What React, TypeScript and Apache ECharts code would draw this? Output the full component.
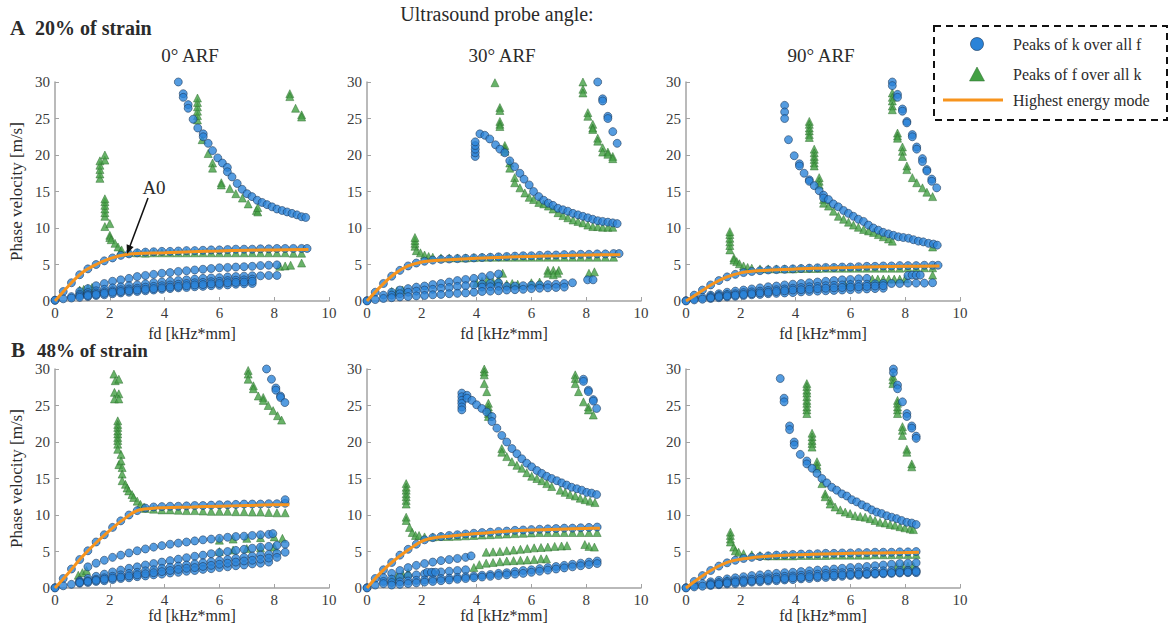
import React, { useEffect, useRef } from "react";
import * as echarts from "echarts";

const _ = null;
// fd sampling grid [kHz*mm]
const FD = [0, 0.3, 0.6, 0.9, 1.2, 1.5, 1.8, 2.1, 2.4, 2.7, 3.0, 3.3, 3.6, 3.9, 4.2, 4.5, 4.8, 5.1, 5.4, 5.7, 6.0, 6.3, 6.6, 6.9, 7.2, 7.5, 7.8, 8.1, 8.4, 8.7, 9.0, 9.2];

const xTicks = [0, 2, 4, 6, 8, 10];
const yTicks = [0, 5, 10, 15, 20, 25, 30];
const columnTitles = ["0° ARF", "30° ARF", "90° ARF"];
const rowTitles = [["A", "20% of strain"], ["B", "48% of strain"]];
const legendNames = ["Peaks of k over all f", "Peaks of f over all k", "Highest energy mode"];

// ---------- A: 20% strain, 0° ----------
const a1Mode = [[0, 0], [0.5, 2.1], [1, 3.9], [1.5, 5.0], [2, 5.8], [2.5, 6.3], [3, 6.5], [4, 6.6], [5, 6.75], [6, 6.85], [7, 6.95], [8, 7.0], [9.25, 7.05]];
const a1KA0 = [0.1, 1.3, 2.5, 3.6, 4.4, 5.0, 5.5, 5.9, 6.25, 6.45, 6.6, 6.7, 6.75, 6.8, 6.8, 6.85, 6.9, 6.9, 6.95, 7.0, 7.0, 7.05, 7.1, 7.1, 7.1, 7.15, 7.15, 7.2, 7.2, 7.2, 7.2, 7.2];
const a1KT = [_, _, _, 1.3, 1.7, 2.1, 2.4, 2.7, 2.9, 3.1, 3.35, 3.5, 3.65, 3.8, 3.9, 4.05, 4.15, 4.25, 4.35, 4.45, 4.55, 4.6, 4.65, 4.7, 4.75, 4.85, 4.9, 4.95];
const a1KL1 = [_, _, 0.6, 0.9, 1.15, 1.4, 1.6, 1.8, 1.95, 2.1, 2.2, 2.35, 2.5, 2.6, 2.7, 2.8, 2.9, 3.0, 3.1, 3.15, 3.2, 3.3, 3.35, 3.4, 3.45, 3.45, 3.5, 3.5];
const a1KL2 = [_, _, _, 0.7, 0.9, 1.1, 1.25, 1.4, 1.55, 1.65, 1.75, 1.9, 2.0, 2.1, 2.2, 2.3, 2.4, 2.5, 2.55, 2.65, 2.7, 2.8, 2.85, 2.9, 3.0];
const a1KL3 = [0.1, 0.3, 0.4, 0.5, 0.6, 0.75, 0.85, 1.0, 1.1, 1.2, 1.3, 1.4, 1.5, 1.6, 1.7, 1.8, 1.85, 1.95, 2.0, 2.1, 2.15, 2.2, 2.3, 2.35, 2.4];
const a1KL4 = [_, _, _, _, 0.75, 0.9, 1.05, 1.2, 1.3, 1.4, 1.5, 1.6, 1.7, 1.8, 1.9, 2.0, 2.1, 2.2, 2.25, 2.35, 2.4, 2.5, 2.55, 2.6, 2.7];
const a1KUp = [[4.5, 30], [4.68, 28.4], [4.68, 27.9], [4.86, 26.9], [4.86, 26.4], [5.04, 24.9], [5.21, 23.7], [5.41, 22.9], [5.41, 22.5], [5.59, 21.6], [5.75, 20.6], [5.94, 19.6], [6.11, 18.9], [6.29, 18.3], [6.29, 17.7], [6.46, 17.0], [6.65, 16.1], [6.83, 15.3], [7.01, 14.7], [7.19, 14.3], [7.38, 13.8], [7.56, 13.5], [7.74, 13.2], [7.92, 12.9], [8.1, 12.6], [8.29, 12.4], [8.47, 12.2], [8.65, 12.0], [8.83, 11.8], [9.0, 11.55], [9.15, 11.45]];
const a1FA0 = [_, _, _, _, _, _, _, _, 6.8, 6.65, 6.6, 6.55, 6.6, 6.6, 6.6, 6.6, 6.6, 6.6, 6.6, 6.6, 6.6, 6.6, 6.6, 6.6, 6.6, 6.6, 6.6, 6.6, 6.6, 6.55, 6.55];
const a1FSpike = [[1.64, 16.8], [1.64, 17.4], [1.64, 18.0], [1.64, 18.6], [1.64, 19.2], [1.82, 19.3], [1.82, 20.0], [1.82, 11.6], [1.82, 12.1], [1.82, 12.6], [1.82, 13.1], [1.82, 13.6], [1.82, 14.0], [1.82, 10.2], [2.0, 10.6], [2.0, 9.0], [2.0, 8.7], [2.05, 8.4], [2.19, 7.9], [2.3, 7.4], [2.43, 7.0]];
const a1FUp = [[5.2, 24.8], [5.2, 25.4], [5.2, 26.0], [5.2, 26.6], [5.2, 27.2], [5.2, 27.8], [5.37, 22.1], [5.59, 20.2], [5.75, 18.9], [5.75, 18.2], [6.07, 16.2], [6.07, 15.9], [6.38, 15.4], [6.6, 14.7], [6.84, 14.1], [7.05, 13.3], [7.35, 12.4], [7.4, 12.2], [7.4, 12.8], [8.57, 28.4], [8.57, 28.0], [8.78, 26.4], [9.0, 25.5], [9.0, 25.2]];
const a1FLow = [[0.9, 1.5], [1.05, 1.6], [1.2, 1.7], [1.35, 1.85], [8.2, 4.75], [8.4, 4.8], [8.6, 4.9], [9.0, 5.2]];

// ---------- A: 20% strain, 30° ----------
const a2Mode = [[0, 0], [0.5, 2.0], [1, 3.7], [1.5, 4.8], [2, 5.35], [2.5, 5.55], [3, 5.65], [4, 5.85], [5, 6.0], [6, 6.1], [7, 6.2], [8, 6.3], [9.25, 6.35]];
const a2KA0 = [0.05, 1.2, 2.4, 3.4, 4.2, 4.8, 5.2, 5.45, 5.6, 5.7, 5.75, 5.8, 5.85, 5.9, 5.95, 6.0, 6.05, 6.1, 6.15, 6.2, 6.2, 6.25, 6.3, 6.3, 6.35, 6.35, 6.4, 6.4, 6.45, 6.45, 6.5, 6.5];
const a2KB1 = [_, _, 0.8, 1.2, 1.5, 1.7, 1.9, 2.05, 2.25, 2.4, 2.6, 2.8, 2.95, 3.1, 3.3, 3.5, 3.7];
const a2KB2 = [_, _, _, 0.8, 1.0, 1.2, 1.35, 1.5, 1.6, 1.75, 1.85, 2.0, 2.1, 2.2, 2.3, 2.4, 2.5];
const a2KB3 = [_, _, _, _, _, _, _, _, _, _, _, _, _, _, 1.9, 1.95, 2.0, 2.0, 2.05, 2.1, 2.15, 2.2, 2.25, 2.3, 2.4, 2.5];
const a2KB4 = [0, 0.2, 0.35, 0.45, 0.55, 0.6, 0.7, 0.75, 0.85, 0.9, 1.0, 1.05, 1.1, 1.2, 1.3, 1.35, 1.4, 1.5, 1.55, 1.6, 1.7, 1.75, 1.8, 1.85, 1.9];
const a2KUp = [[3.95, 19.8], [3.95, 20.3], [3.95, 20.8], [3.95, 21.3], [3.95, 21.8], [4.12, 22.9], [4.3, 22.7], [4.48, 22.2], [4.69, 21.4], [4.85, 20.8], [5.03, 20.3], [5.21, 19.2], [5.39, 18.4], [5.58, 17.5], [5.73, 16.7], [5.92, 15.9], [6.08, 15.0], [6.27, 14.3], [6.45, 13.8], [6.62, 13.4], [6.79, 13.1], [6.97, 12.7], [7.15, 12.5], [7.33, 12.3], [7.52, 12.0], [7.7, 11.8], [7.88, 11.6], [8.06, 11.4], [8.24, 11.2], [8.42, 11.0], [8.6, 10.9], [8.79, 10.8], [8.97, 10.7], [9.13, 10.6], [8.42, 30.0], [8.6, 27.7], [8.6, 27.4], [8.79, 25.3], [8.79, 25.0], [8.97, 23.2], [9.13, 21.6], [8.05, 2.9], [8.25, 2.9]];
const a2FA0 = [_, _, _, _, _, _, _, _, 6.0, 5.9, 5.9, 5.9, 5.9, 5.95, 6.0, 6.0, 6.0, 6.0, 6.0, 6.0, 6.0, 6.0, 6.0, 6.0, 6.0, 6.0, 6.0, 6.0, 6.0, 6.0, 6.0];
const a2FSpike = [[1.75, 7.5], [1.75, 7.9], [1.75, 8.3], [1.75, 8.7], [1.8, 6.9], [1.95, 6.6], [2.1, 6.3], [2.25, 6.1]];
const a2FUp = [[4.67, 29.9], [4.85, 26.5], [4.85, 26.1], [4.85, 24.6], [4.85, 24.2], [4.85, 23.9], [5.03, 21.3], [5.03, 20.9], [5.03, 20.5], [5.21, 18.9], [5.21, 18.2], [5.39, 16.9], [5.39, 16.2], [5.58, 15.5], [5.76, 14.8], [5.92, 14.2], [6.08, 13.9], [6.27, 13.5], [6.45, 13.3], [6.62, 13.0], [6.79, 12.6], [6.97, 12.1], [7.15, 11.7], [7.33, 11.4], [7.52, 11.1], [7.7, 10.9], [7.88, 10.7], [8.06, 10.4], [8.24, 10.2], [8.42, 10.2], [8.6, 10.1], [8.79, 10.1], [8.97, 10.1], [7.88, 30.0], [7.88, 29.0], [7.88, 28.5], [8.06, 25.8], [8.06, 25.3], [8.24, 24.2], [8.24, 23.7], [8.24, 23.5], [8.42, 22.3], [8.42, 21.9], [8.6, 21.0], [8.6, 20.4], [8.79, 20.4], [8.79, 20.1], [8.97, 19.8], [8.97, 19.5]];
const a2FLow = [[0.9, 1.3], [1.1, 1.4], [1.3, 1.5], [4.0, 2.5], [4.2, 2.7], [4.4, 2.9], [4.6, 2.6], [4.8, 2.9], [4.95, 3.8], [5.1, 2.3], [5.3, 2.4], [5.5, 2.3], [6.0, 2.5], [6.3, 2.6], [6.6, 4.2], [6.8, 4.2], [7.0, 4.2], [6.6, 3.8], [6.95, 3.8], [6.8, 3.6], [8.1, 3.8], [8.3, 4.0]];

// ---------- A: 20% strain, 90° ----------
const a3Mode = [[0, 0], [0.5, 1.2], [1, 2.4], [1.5, 3.3], [2, 3.85], [2.5, 4.1], [3, 4.2], [4, 4.4], [5, 4.5], [6, 4.6], [7, 4.7], [8, 4.75], [9.25, 4.8]];
const a3KA0 = [0.05, 0.8, 1.5, 2.2, 2.8, 3.3, 3.65, 3.9, 4.05, 4.15, 4.25, 4.3, 4.35, 4.4, 4.45, 4.5, 4.55, 4.6, 4.6, 4.65, 4.65, 4.7, 4.75, 4.75, 4.8, 4.8, 4.85, 4.85, 4.85, 4.9, 4.9, 4.9];
const a3KC1 = [_, 0.3, 0.5, 0.8, 1.0, 1.2, 1.35, 1.5, 1.65, 1.8, 1.95, 2.05, 2.2, 2.3, 2.4, 2.5, 2.6, 2.7, 2.8, 2.9, 2.95, 3.05, 3.1];
const a3KC2 = [_, _, _, 0.6, 0.75, 0.9, 1.0, 1.15, 1.25, 1.35, 1.45, 1.55, 1.65, 1.75, 1.85, 1.95, 2.0, 2.1, 2.15, 2.2, 2.25, 2.3, 2.3, 2.35, 2.4, 2.4, 2.4, 2.45, 2.45, 2.45, 2.5];
const a3KC3 = [0, 0.15, 0.25, 0.35, 0.45, 0.55, 0.65, 0.75, 0.85, 0.9, 1.0, 1.05, 1.1, 1.15, 1.25, 1.3, 1.35, 1.4, 1.45, 1.5, 1.55, 1.6, 1.65, 1.7, 1.75];
const a3KC4 = [_, _, _, 0.45, 0.6, 0.7, 0.8, 0.9, 1.0, 1.1, 1.2, 1.3, 1.4, 1.5, 1.55, 1.6, 1.7, 1.75, 1.8, 1.85, 1.9, 1.95, 2.0, 2.05, 2.1];
const a3KUp = [[3.6, 26.8], [3.6, 25.9], [3.6, 25.0], [3.74, 22.1], [3.95, 19.9], [4.14, 18.8], [4.14, 18.5], [4.31, 17.5], [4.5, 16.6], [4.5, 16.4], [4.68, 15.8], [4.86, 15.1], [5.02, 14.5], [5.02, 14.1], [5.2, 13.9], [5.38, 13.3], [5.56, 12.9], [5.75, 12.4], [5.93, 12.0], [6.11, 11.6], [6.29, 11.2], [6.48, 10.9], [6.66, 10.4], [6.84, 10.0], [7.02, 9.7], [7.2, 9.4], [7.39, 9.2], [7.57, 9.0], [7.75, 8.8], [7.93, 8.7], [8.12, 8.6], [8.3, 8.4], [8.48, 8.2], [8.66, 8.1], [8.85, 7.9], [9.03, 7.8], [9.17, 7.65], [7.53, 30.0], [7.53, 29.5], [7.72, 28.3], [7.72, 27.9], [7.9, 26.3], [7.9, 26.0], [8.06, 24.6], [8.06, 24.4], [8.26, 22.8], [8.26, 22.5], [8.42, 21.1], [8.42, 20.8], [8.63, 19.5], [8.63, 19.1], [8.79, 18.0], [8.79, 17.8], [8.97, 16.7], [8.97, 16.4], [9.15, 15.5], [8.1, 3.5], [8.25, 3.55], [8.4, 3.55], [8.55, 3.55]];
const a3FA0 = [_, _, _, _, _, _, _, _, 4.5, 4.4, 4.4, 4.4, 4.4, 4.4, 4.45, 4.45, 4.45, 4.5, 4.5, 4.5, 4.5, 4.5, 4.5, 4.5, 4.5, 4.5, 4.5, 4.55, 4.55, 4.55, 4.55];
const a3FSpike = [[1.6, 7.0], [1.6, 7.6], [1.6, 8.1], [1.6, 8.6], [1.6, 9.1], [1.6, 9.5], [1.75, 5.9], [1.75, 5.6], [1.85, 5.4], [1.95, 5.1], [2.1, 4.8], [2.25, 4.6]];
const a3FUp = [[4.5, 24.6], [4.5, 24.2], [4.5, 23.7], [4.5, 23.3], [4.5, 22.8], [4.5, 22.4], [4.68, 20.8], [4.68, 20.3], [4.68, 19.8], [4.68, 19.4], [4.68, 18.9], [4.68, 18.5], [4.86, 16.9], [4.86, 16.4], [4.86, 15.9], [5.02, 13.9], [5.02, 13.4], [5.2, 13.0], [5.38, 12.3], [5.56, 11.6], [5.75, 11.2], [5.93, 10.8], [6.11, 10.4], [6.29, 10.1], [6.48, 9.8], [6.66, 9.6], [6.84, 9.4], [7.02, 9.1], [7.2, 8.8], [7.39, 8.5], [7.53, 8.2], [9.0, 7.4], [7.53, 28.5], [7.53, 27.9], [7.53, 27.4], [7.53, 26.7], [7.53, 26.2], [7.72, 23.0], [7.72, 22.6], [7.72, 22.3], [7.9, 21.1], [7.9, 20.5], [7.9, 19.8], [8.06, 18.5], [8.06, 18.0], [8.26, 16.9], [8.42, 16.2], [8.63, 15.5], [8.79, 14.9], [9.0, 14.3]];
const a3FLow = [[0.9, 0.8], [1.2, 0.9], [1.5, 1.0], [5.8, 2.3], [6.0, 2.4], [6.8, 3.0], [7.0, 3.0], [7.2, 3.0], [7.4, 3.0], [7.6, 3.0], [7.8, 3.0], [8.0, 3.05], [9.0, 3.55]];

// ---------- B: 48% strain, 0° ----------
const b1Mode = [[0, 0], [0.5, 2.1], [1, 4.3], [1.5, 6.2], [2, 7.9], [2.5, 9.4], [3, 10.6], [3.5, 10.9], [4, 11.0], [5, 11.1], [6, 11.2], [7, 11.3], [8, 11.4], [8.55, 11.4]];
const b1KA0 = [0.05, 1.3, 2.6, 3.9, 5.1, 6.3, 7.3, 8.3, 9.2, 10.0, 10.6, 10.95, 11.1, 11.15, 11.2, 11.2, 11.25, 11.3, 11.3, 11.35, 11.4, 11.4, 11.45, 11.5, 11.5, 11.5, 11.55, 11.55, 11.6];
const b1KD1 = [_, _, _, _, 2.9, 3.4, 3.8, 4.2, 4.5, 4.8, 5.1, 5.35, 5.6, 5.8, 6.0, 6.15, 6.3, 6.45, 6.6, 6.7, 6.8, 6.95, 7.05, 7.1, 7.2, 7.3, 7.35];
const b1KD2 = [_, _, _, 1.0, 1.3, 1.6, 1.9, 2.2, 2.45, 2.7, 2.9, 3.15, 3.35, 3.55, 3.75, 3.95, 4.15, 4.35, 4.5, 4.7, 4.85, 5.0, 5.15, 5.3, 5.45, 5.6, 5.7, 5.85, 6.0];
const b1KD3 = [_, _, _, 0.85, 1.0, 1.2, 1.4, 1.6, 1.8, 2.0, 2.15, 2.35, 2.5, 2.7, 2.85, 3.0, 3.15, 3.3, 3.45, 3.6, 3.75, 3.9, 4.05, 4.2, 4.35, 4.5, 4.6, 4.75, 4.9];
const b1KD4 = [0, 0.3, 0.5, 0.65, 0.75, 0.9, 1.0, 1.15, 1.3, 1.4, 1.55, 1.65, 1.8, 1.9, 2.05, 2.15, 2.3, 2.4, 2.55, 2.65, 2.8, 2.9, 3.05, 3.15, 3.3, 3.4, 3.55];
const b1KD5 = [_, _, _, 0.75, 0.9, 1.05, 1.2, 1.35, 1.5, 1.65, 1.8, 1.95, 2.1, 2.25, 2.4, 2.55, 2.7, 2.8, 2.95, 3.1, 3.25, 3.4, 3.55, 3.7, 3.8, 3.95, 4.1, 4.2];
const b1KUp = [[7.72, 30.0], [7.9, 28.6], [8.06, 27.4], [8.06, 27.1], [8.23, 26.3], [8.23, 26.1], [8.39, 25.4], [8.4, 12.1], [7.95, 7.45]];
const b1FA0 = [_, _, _, _, _, _, _, _, _, _, _, 10.9, 10.8, 10.7, 10.7, 10.65, 10.6, 10.6, 10.55, 10.5, 10.5, 10.5, 10.45, 10.45, 10.4, 10.4, 10.35, 10.3, 10.3];
const b1FSpike = [[2.15, 29.3], [2.2, 28.4], [2.33, 28.6], [2.17, 26.8], [2.17, 25.9], [2.33, 26.6], [2.33, 25.9], [2.29, 22.9], [2.29, 22.4], [2.29, 22.0], [2.29, 21.5], [2.29, 21.1], [2.29, 20.6], [2.29, 20.2], [2.29, 19.7], [2.29, 19.0], [2.33, 16.9], [2.41, 18.3], [2.41, 17.4], [2.45, 16.5], [2.45, 15.6], [2.45, 14.7], [2.57, 14.2], [2.63, 13.7], [2.69, 13.3], [2.81, 12.8], [2.87, 12.4], [3.0, 11.9], [3.12, 11.45], [3.25, 11.1]];
const b1FUp = [[7.05, 29.8], [7.05, 29.3], [7.05, 28.6], [7.24, 27.7], [7.24, 27.3], [7.42, 26.3], [7.6, 26.1], [7.6, 25.7], [7.78, 25.0], [7.96, 24.3], [8.12, 23.6], [8.27, 23.0]];
const b1FLow = [[0.85, 1.75], [1.0, 2.1], [1.15, 2.4], [6.0, 6.55], [6.5, 6.7], [7.0, 6.8], [7.5, 6.9], [8.0, 7.0], [8.3, 6.8], [6.0, 5.0], [6.5, 5.2], [7.0, 5.4], [7.5, 5.5], [8.0, 5.6]];

// ---------- B: 48% strain, 30° ----------
const b2Mode = [[0, 0], [0.5, 2.1], [1, 3.8], [1.5, 5.2], [2, 6.4], [2.5, 6.9], [3, 7.1], [4, 7.45], [5, 7.75], [6, 7.95], [7, 8.05], [8, 8.15], [8.5, 8.2]];
const b2KA0 = [0.05, 1.3, 2.5, 3.5, 4.5, 5.3, 6.0, 6.6, 6.9, 7.05, 7.2, 7.3, 7.4, 7.5, 7.6, 7.65, 7.75, 7.8, 7.9, 7.95, 8.0, 8.05, 8.1, 8.15, 8.2, 8.2, 8.25, 8.3, 8.35];
const b2KE1 = [_, _, 1.4, 2.0, 2.4, 2.8, 3.1, 3.35, 3.55, 3.75, 3.9, 4.05, 4.2];
const b2KE2 = [_, _, 0.9, 1.2, 1.45, 1.65, 1.8, 1.95, 2.1, 2.2, 2.3, 2.4, 2.5];
const b2KE3 = [0, 0.4, 0.6, 0.75, 0.85, 0.95, 1.05, 1.1, 1.2, 1.3, 1.35, 1.45, 1.55, 1.65, 1.75, 1.85, 2.0, 2.1, 2.25, 2.4, 2.5, 2.65, 2.8, 2.95, 3.1, 3.25, 3.4, 3.55, 3.7];
const b2KE4 = [_, _, _, 0.4, 0.5, 0.6, 0.7, 0.8, 0.9, 1.0, 1.1, 1.2, 1.3, 1.4, 1.5, 1.6, 1.7, 1.8, 1.9, 2.0, 2.15, 2.3, 2.45, 2.6, 2.75, 2.9, 3.05, 3.2, 3.35];
const b2KUp = [[3.46, 26.7], [3.46, 26.2], [3.46, 25.7], [3.46, 25.3], [3.46, 24.8], [3.46, 24.4], [3.65, 26.4], [3.65, 26.0], [3.83, 25.7], [4.0, 25.1], [4.19, 24.6], [4.37, 24.1], [4.56, 23.5], [4.56, 22.8], [4.74, 21.9], [4.92, 20.9], [5.1, 20.0], [5.29, 19.1], [5.47, 18.4], [5.65, 17.7], [5.83, 17.1], [6.01, 16.6], [6.2, 16.1], [6.38, 15.7], [6.56, 15.3], [6.74, 15.0], [6.93, 14.7], [7.11, 14.4], [7.29, 14.1], [7.47, 13.8], [7.66, 13.6], [7.84, 13.4], [8.02, 13.1], [8.2, 13.0], [8.38, 12.8], [7.72, 30.1], [7.9, 28.6], [7.9, 28.3], [8.08, 27.1], [8.08, 26.9], [8.26, 25.8], [8.26, 25.6], [8.38, 24.6], [3.8, 4.4], [2.2, 2.15], [2.35, 2.15], [2.5, 2.15]];
const b2FA0 = [_, _, _, _, _, _, _, 7.0, 7.0, 7.05, 7.05, 7.1, 7.15, 7.2, 7.25, 7.3, 7.35, 7.4, 7.45, 7.5, 7.55, 7.6, 7.6, 7.6, 7.6, 7.6, 7.6, 7.6, 7.6];
const b2FSpike = [[1.43, 14.3], [1.43, 13.8], [1.43, 13.4], [1.43, 12.9], [1.43, 12.5], [1.43, 12.0], [1.43, 11.5], [1.43, 9.7], [1.43, 9.25], [1.55, 8.3], [1.65, 7.6], [1.77, 7.2], [1.9, 7.2]];
const b2FUp = [[4.28, 30.0], [4.28, 29.6], [4.28, 29.2], [4.28, 28.0], [4.37, 26.9], [4.43, 25.3], [4.43, 24.8], [4.43, 24.4], [4.43, 23.9], [4.43, 23.5], [4.92, 19.1], [4.92, 18.6], [5.1, 18.0], [5.29, 17.3], [5.47, 16.8], [5.65, 16.4], [5.83, 15.8], [6.01, 15.3], [6.2, 15.0], [6.38, 14.7], [6.56, 14.3], [6.74, 13.9], [7.05, 13.4], [7.23, 13.1], [7.41, 12.8], [7.6, 12.6], [7.78, 12.3], [7.96, 12.1], [8.14, 11.9], [8.32, 11.7], [7.6, 29.2], [7.6, 28.7], [7.6, 28.0], [7.72, 26.9], [7.9, 25.5], [8.08, 24.8], [8.08, 24.4], [8.26, 23.7]];
const b2FLow = [[0.9, 1.3], [1.1, 1.6], [1.3, 1.9], [1.5, 2.1], [4.35, 4.9], [4.6, 4.95], [4.85, 5.0], [5.1, 5.1], [5.35, 5.2], [5.6, 5.3], [5.85, 5.4], [6.1, 5.5], [6.35, 5.55], [6.6, 5.6], [6.85, 5.7], [7.1, 5.75], [7.3, 5.8], [7.95, 5.95], [8.1, 5.7], [8.3, 5.6], [3.9, 2.8], [4.1, 3.2], [4.35, 3.4], [4.6, 3.5], [4.85, 3.6], [5.1, 3.7], [5.35, 3.75], [5.6, 3.8], [5.85, 3.85], [6.1, 3.9], [6.35, 4.0], [6.55, 4.0]];

// ---------- B: 48% strain, 90° ----------
const b3Mode = [[0, 0], [0.5, 1.4], [1, 2.6], [1.5, 3.5], [2, 3.95], [2.5, 4.2], [3, 4.35], [4, 4.55], [5, 4.65], [6, 4.75], [7, 4.8], [8, 4.85], [8.5, 4.9]];
const b3KA0 = [0.05, 0.9, 1.7, 2.4, 3.0, 3.45, 3.8, 4.05, 4.2, 4.3, 4.4, 4.5, 4.55, 4.6, 4.65, 4.65, 4.7, 4.75, 4.75, 4.8, 4.8, 4.85, 4.85, 4.9, 4.9, 4.9, 4.95, 4.95, 5.0];
const b3KF1 = [_, 0.35, 0.6, 0.85, 1.05, 1.25, 1.4, 1.55, 1.7, 1.8, 1.9, 2.0, 2.1, 2.15, 2.25, 2.35, 2.45, 2.5, 2.6, 2.7, 2.8, 2.85, 2.95, 3.05, 3.15, 3.25, 3.35, 3.4, 3.45];
const b3KF2 = [_, _, _, 0.6, 0.75, 0.9, 1.0, 1.1, 1.2, 1.3, 1.4, 1.5, 1.6, 1.65, 1.75, 1.85, 1.9, 2.0, 2.05, 2.1, 2.15, 2.2, 2.25, 2.3, 2.35, 2.4, 2.4, 2.4, 2.4];
const b3KF3 = [0, 0.15, 0.25, 0.35, 0.45, 0.55, 0.6, 0.7, 0.8, 0.85, 0.95, 1.0, 1.1, 1.15, 1.25, 1.3, 1.4, 1.45, 1.55, 1.6, 1.7, 1.75, 1.85, 1.9, 1.95, 2.0, 2.05, 2.1, 2.1];
const b3KF4 = [_, _, _, 0.45, 0.55, 0.7, 0.8, 0.9, 0.95, 1.05, 1.15, 1.2, 1.3, 1.4, 1.45, 1.55, 1.6, 1.7, 1.75, 1.8, 1.85, 1.9, 1.95, 2.0, 2.05, 2.1, 2.15, 2.2, 2.25];
const b3KUp = [[3.44, 28.7], [3.58, 26.0], [3.58, 25.5], [3.78, 22.2], [3.78, 21.7], [3.95, 20.0], [3.95, 19.6], [4.17, 18.3], [4.41, 17.4], [4.41, 17.0], [4.6, 16.4], [4.78, 15.7], [4.96, 15.0], [5.14, 14.4], [5.32, 13.8], [5.5, 13.4], [5.69, 12.9], [5.87, 12.6], [6.05, 12.1], [6.23, 11.8], [6.42, 11.4], [6.6, 11.1], [6.78, 10.7], [6.96, 10.4], [7.14, 10.2], [7.33, 9.9], [7.51, 9.7], [7.69, 9.5], [7.87, 9.25], [8.06, 9.0], [8.24, 8.9], [8.4, 8.7], [7.57, 30.0], [7.57, 29.5], [7.72, 27.8], [7.72, 27.3], [7.9, 25.5], [8.06, 23.9], [8.06, 23.5], [8.24, 22.2], [8.24, 21.9], [8.4, 20.8], [8.4, 20.5]];
const b3FA0 = [_, _, _, _, _, _, _, 4.7, 4.55, 4.45, 4.4, 4.4, 4.4, 4.4, 4.45, 4.45, 4.45, 4.45, 4.5, 4.5, 4.5, 4.5, 4.5, 4.55, 4.55, 4.55, 4.6, 4.6, 4.6];
const b3FSpike = [[1.62, 7.65], [1.62, 7.2], [1.62, 6.7], [1.62, 6.3], [1.74, 5.6], [1.8, 5.1], [1.92, 4.9]];
const b3FUp = [[4.41, 28.0], [4.41, 27.6], [4.41, 27.1], [4.41, 26.7], [4.41, 26.2], [4.41, 25.7], [4.41, 25.3], [4.41, 24.8], [4.41, 24.4], [4.41, 23.9], [4.6, 21.2], [4.6, 20.7], [4.6, 20.2], [4.6, 19.8], [4.6, 19.3], [4.78, 17.3], [4.78, 16.8], [4.78, 16.4], [4.96, 14.3], [5.08, 12.9], [5.08, 12.5], [5.26, 12.0], [5.26, 11.5], [5.44, 11.1], [5.63, 10.7], [5.81, 10.4], [5.99, 10.2], [6.17, 9.9], [6.36, 9.8], [6.54, 9.7], [6.72, 9.5], [6.9, 9.25], [7.08, 9.0], [7.27, 8.9], [7.45, 8.7], [7.63, 8.6], [7.81, 8.4], [7.99, 8.25], [8.18, 8.1], [8.3, 8.0], [7.55, 29.0], [7.55, 28.5], [7.55, 28.0], [7.72, 25.7], [7.72, 25.3], [7.72, 24.8], [7.72, 24.4], [7.72, 23.9], [7.9, 22.1], [7.9, 21.6], [7.9, 20.9], [8.06, 19.0], [8.06, 18.6], [8.24, 17.0], [8.24, 16.6]];
const b3FLow = [[7.7, 2.9], [7.9, 2.95], [8.1, 3.0], [8.3, 3.0], [1.2, 0.9], [1.5, 1.1]];

const onFD = (ys: (number | null)[]) =>
  ys.map((y, i) => (y == null ? null : [FD[i], y])).filter((p) => p !== null) as number[][];

const PANELS = [
  { k: [onFD(a1KA0), onFD(a1KT), onFD(a1KL1), onFD(a1KL2), onFD(a1KL3), onFD(a1KL4), a1KUp], f: [onFD(a1FA0), a1FSpike, a1FUp, a1FLow], mode: a1Mode },
  { k: [onFD(a2KA0), onFD(a2KB1), onFD(a2KB2), onFD(a2KB3), onFD(a2KB4), a2KUp], f: [onFD(a2FA0), a2FSpike, a2FUp, a2FLow], mode: a2Mode },
  { k: [onFD(a3KA0), onFD(a3KC1), onFD(a3KC2), onFD(a3KC3), onFD(a3KC4), a3KUp], f: [onFD(a3FA0), a3FSpike, a3FUp, a3FLow], mode: a3Mode },
  { k: [onFD(b1KA0), onFD(b1KD1), onFD(b1KD2), onFD(b1KD3), onFD(b1KD4), onFD(b1KD5), b1KUp], f: [onFD(b1FA0), b1FSpike, b1FUp, b1FLow], mode: b1Mode },
  { k: [onFD(b2KA0), onFD(b2KE1), onFD(b2KE2), onFD(b2KE3), onFD(b2KE4), b2KUp], f: [onFD(b2FA0), b2FSpike, b2FUp, b2FLow], mode: b2Mode },
  { k: [onFD(b3KA0), onFD(b3KF1), onFD(b3KF2), onFD(b3KF3), onFD(b3KF4), b3KUp], f: [onFD(b3FA0), b3FSpike, b3FUp, b3FLow], mode: b3Mode },
];

const FONT = "Liberation Serif";
const BLUE = "#2a83d8";
const BLUE_EDGE = "#1b3656";
const GREEN = "#43a044";
const GREEN_EDGE = "#2a6b2c";
const ORANGE = "#f7941d";
const AXIS = "#a3a3a3";
const TEXT = "#2b2b2b";

const LEFTS = [55, 367, 686];
const TOPS = [82, 369];
const GW = 274;
const GH = 219;

function buildOption() {
  const grid: any[] = [];
  const xAxis: any[] = [];
  const yAxis: any[] = [];
  const series: any[] = [];
  PANELS.forEach((p, i) => {
    const row = Math.floor(i / 3);
    const col = i % 3;
    grid.push({ left: LEFTS[col], top: TOPS[row], width: GW, height: GH, containLabel: false });
    xAxis.push({
      gridIndex: i, type: "value", min: xTicks[0], max: xTicks[xTicks.length - 1], interval: xTicks[1] - xTicks[0],
      axisLine: { show: true, lineStyle: { color: AXIS, width: 1.5 } },
      axisTick: { show: true, inside: true, length: 4, lineStyle: { color: AXIS } },
      splitLine: { show: false },
      axisLabel: { color: "#3a3a3a", fontFamily: FONT, fontSize: 15, margin: 4 },
      name: "fd [kHz*mm]", nameLocation: "middle", nameGap: row === 0 ? 24 : 17,
      nameTextStyle: { color: TEXT, fontFamily: FONT, fontSize: 16 },
    });
    yAxis.push({
      gridIndex: i, type: "value", min: yTicks[0], max: yTicks[yTicks.length - 1], interval: yTicks[1] - yTicks[0],
      axisLine: { show: true, lineStyle: { color: AXIS, width: 1.5 } },
      axisTick: { show: true, inside: true, length: 4, lineStyle: { color: AXIS } },
      splitLine: { show: false },
      axisLabel: { color: "#3a3a3a", fontFamily: FONT, fontSize: 15, margin: 5 },
      name: col === 0 ? "Phase velocity [m/s]" : "", nameLocation: "middle", nameGap: 30,
      nameTextStyle: { color: TEXT, fontFamily: FONT, fontSize: 17 },
    });
    series.push({
      type: "scatter", name: legendNames[1], xAxisIndex: i, yAxisIndex: i, z: 2,
      symbol: "triangle", symbolSize: 8,
      itemStyle: { color: GREEN, borderColor: GREEN_EDGE, borderWidth: 0.6 },
      data: p.f.flat(),
    });
    series.push({
      type: "scatter", name: legendNames[0], xAxisIndex: i, yAxisIndex: i, z: 3,
      symbol: "circle", symbolSize: 8,
      itemStyle: { color: BLUE, borderColor: BLUE_EDGE, borderWidth: 0.7 },
      data: p.k.flat(),
    });
    series.push({
      type: "line", name: legendNames[2], xAxisIndex: i, yAxisIndex: i, z: 4,
      smooth: 0.35, showSymbol: false, symbol: "none",
      lineStyle: { color: ORANGE, width: 3 },
      data: p.mode,
    });
  });

  const txt = (text: string, x: number, y: number, size: number, opts: any = {}) => ({
    type: "text", x, y, z: 10,
    style: { text, fill: TEXT, fontFamily: FONT, fontSize: size, fontWeight: opts.bold ? "bold" : "normal", align: opts.align || "left", verticalAlign: "middle" },
  });

  const colCenters = LEFTS.map((l) => l + GW / 2);
  const graphic: any[] = [
    txt("Ultrasound probe angle:", 497, 14, 20, { align: "center" }),
    ...columnTitles.map((t, c) => txt(t, colCenters[c] - 2, 55, 19, { align: "center" })),
    txt(rowTitles[0][0], 10, 28, 21, { bold: true }),
    txt(rowTitles[0][1], 35, 28, 20, { bold: true }),
    txt(rowTitles[1][0], 11, 350, 21, { bold: true }),
    txt(rowTitles[1][1], 37, 350, 19, { bold: true }),
    txt("A0", 154, 187, 19, { align: "center" }),
    { type: "line", z: 10, shape: { x1: 148, y1: 198, x2: 130, y2: 246 }, style: { stroke: "#111", lineWidth: 1.6 } },
    { type: "polygon", z: 10, shape: { points: [[133.6, 246.9], [126.6, 244.3], [127, 254]] }, style: { fill: "#111" } },
    // legend box
    { type: "rect", z: 20, shape: { x: 934, y: 26, width: 233, height: 94 }, style: { fill: "#fff", stroke: "#111", lineWidth: 2, lineDash: [7, 5] } },
    { type: "circle", z: 21, shape: { cx: 977, cy: 44, r: 6.5 }, style: { fill: BLUE, stroke: BLUE_EDGE, lineWidth: 0.6 } },
    { type: "polygon", z: 21, shape: { points: [[977, 67], [969.5, 81], [984.5, 81]] }, style: { fill: GREEN, stroke: GREEN_EDGE, lineWidth: 0.5 } },
    { type: "line", z: 21, shape: { x1: 943, y1: 100, x2: 1003, y2: 100 }, style: { stroke: ORANGE, lineWidth: 3 } },
    { ...txt(legendNames[0], 1013, 44, 16), z: 21 },
    { ...txt(legendNames[1], 1013, 74, 16), z: 21 },
    { ...txt(legendNames[2], 1013, 100, 16), z: 21 },
  ];

  return { animation: false, backgroundColor: "#ffffff", textStyle: { fontFamily: FONT }, grid, xAxis, yAxis, series, graphic };
}

export default function App() {
  const ref = useRef<HTMLDivElement>(null);
  useEffect(() => {
    if (!ref.current) return;
    const chart = echarts.init(ref.current, undefined, { renderer: "svg" });
    chart.setOption(buildOption());
    return () => chart.dispose();
  }, []);
  return <div ref={ref} style={{ position: "fixed", left: 0, top: 0, width: 1170, height: 637, background: "#fff" }} />;
}
